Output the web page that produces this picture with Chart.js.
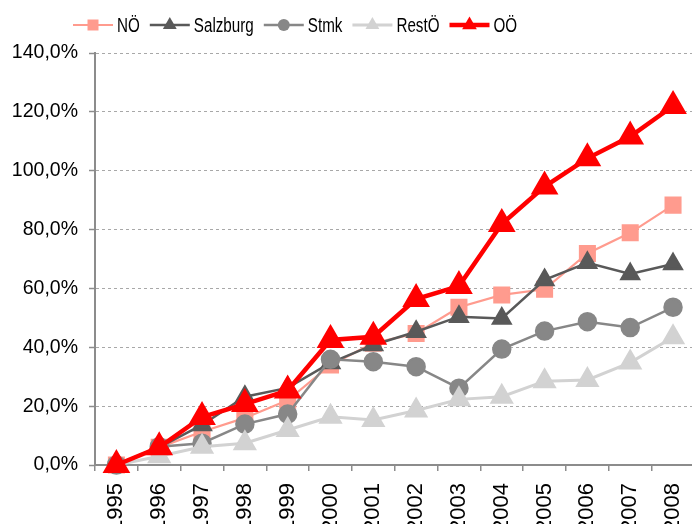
<!DOCTYPE html>
<html>
<head>
<meta charset="utf-8">
<script src="https://cdn.jsdelivr.net/npm/chart.js@4/dist/chart.umd.min.js"></script>
<style>
    html, body { margin: 0; padding: 0; background: #fff; overflow: hidden; }
</style>
</head>
<body>
<canvas id="lineChart" width="712" height="524"></canvas>
<script>

years = ['1995', '1996', '1997', '1998', '1999', '2000', '2001', '2002', '2003', '2004', '2005', '2006', '2007', '2008']

// growth since 1995, in percent
noe      = [0, 6.0, 11.3, 16.0, 22.0, 34.0, 41.4, 44.7, 53.6, 57.8, 59.7, 71.9, 78.9, 88.3]
salzburg = [0, 6.0, 13.6, 23.2, 26.2, 34.7, 40.8, 45.3, 50.4, 49.8, 62.9, 68.7, 64.9, 68.3]
stmk     = [0, 6.2, 7.4, 13.9, 17.3, 35.9, 35.1, 33.4, 26.1, 39.4, 45.5, 48.7, 46.7, 53.6]
restOe   = [0, 3.0, 6.2, 7.4, 11.9, 16.4, 15.3, 18.5, 22.3, 23.2, 28.5, 28.9, 34.8, 43.4]
ooe      = [0, 6.0, 16.3, 20.7, 25.3, 42.5, 43.6, 56.4, 60.8, 81.9, 94.6, 104.2, 111.6, 122.0]

yTicks = [0, 20, 40, 60, 80, 100, 120, 140]

const FONT = '"Liberation Sans", Arial, sans-serif';
const AXIS_GREY = '#8c8c8c';

// legend with a short line through the marker, text slightly condensed
const lineLegend = {
    id: 'lineLegend',
    afterDraw(chart) {
        const ctx = chart.ctx;
        const y = 25;
        let x = 73;
        ctx.save();
        ctx.font = '20px ' + FONT;
        ctx.textBaseline = 'middle';
        ctx.textAlign = 'left';
        chart.data.datasets.forEach(ds => {
            ctx.strokeStyle = ds.borderColor;
            ctx.fillStyle = ds.borderColor;
            ctx.lineWidth = ds.borderWidth;
            ctx.beginPath();
            ctx.moveTo(x, y);
            ctx.lineTo(x + 40, y);
            ctx.stroke();

            const cx = x + 20;
            const r = ds.legendRadius;
            ctx.beginPath();
            if (ds.pointStyle === 'rect') {
                ctx.rect(cx - r, y - r, 2 * r, 2 * r);
            } else if (ds.pointStyle === 'triangle') {
                ctx.moveTo(cx, y - r);
                ctx.lineTo(cx + r * 0.866, y + r / 2);
                ctx.lineTo(cx - r * 0.866, y + r / 2);
                ctx.closePath();
            } else {
                ctx.arc(cx, y, r, 0, Math.PI * 2);
            }
            ctx.fill();

            ctx.fillStyle = '#000';
            ctx.save();
            ctx.translate(x + 44, y + 1);
            ctx.scale(0.76, 1);
            ctx.fillText(ds.label, 0, 0);
            ctx.restore();
            x += 44 + ctx.measureText(ds.label).width * 0.76 + 10;
        });
        ctx.restore();
    }
};

let lineChart = new Chart(document.getElementById('lineChart'), {
    type: 'line',
    data: {
        labels: years,
        datasets: [
            {
                label: 'NÖ',
                data: noe,
                borderColor: '#ff9b8e',
                backgroundColor: '#ff9b8e',
                borderWidth: 2.2,
                pointStyle: 'rect',
                pointRadius: 10.5,
                legendRadius: 5.5,
                order: 5
            },
            {
                label: 'Salzburg',
                data: salzburg,
                borderColor: '#595959',
                backgroundColor: '#595959',
                borderWidth: 2.5,
                pointStyle: 'triangle',
                pointRadius: 10,
                legendRadius: 8,
                order: 4
            },
            {
                label: 'Stmk',
                data: stmk,
                borderColor: '#878787',
                backgroundColor: '#878787',
                borderWidth: 2.5,
                pointStyle: 'circle',
                pointRadius: 8.5,
                legendRadius: 6,
                order: 3
            },
            {
                label: 'RestÖ',
                data: restOe,
                borderColor: '#d2d2d2',
                backgroundColor: '#d2d2d2',
                borderWidth: 3,
                pointStyle: 'triangle',
                pointRadius: 11,
                legendRadius: 8,
                order: 2
            },
            {
                label: 'OÖ',
                data: ooe,
                borderColor: '#ff0000',
                backgroundColor: '#ff0000',
                borderWidth: 4.5,
                pointStyle: 'triangle',
                pointRadius: 11.5,
                legendRadius: 8.5,
                order: 1
            }
        ]
    },
    options: {
        responsive: false,
        animation: false,
        devicePixelRatio: 1,
        layout: {
            padding: { top: 53, right: 9, bottom: 0, left: 0 }
        },
        elements: {
            line: { tension: 0 },
            point: { borderWidth: 0, hoverRadius: 10 }
        },
        datasets: {
            line: { clip: false }
        },
        plugins: {
            legend: { display: false },
            tooltip: { enabled: false }
        },
        scales: {
            x: {
                type: 'category',
                offset: true,
                grid: {
                    offset: true,
                    drawOnChartArea: false,
                    tickLength: 6,
                    color: AXIS_GREY,
                    lineWidth: 1.5
                },
                border: { color: AXIS_GREY, width: 2 },
                ticks: {
                    autoSkip: false,
                    minRotation: 90,
                    maxRotation: 90,
                    padding: 12,
                    color: '#000',
                    font: { family: FONT, size: 22 }
                },
                afterFit: scale => { scale.height = 59; }
            },
            y: {
                min: 0,
                max: 140,
                afterBuildTicks: scale => {
                    scale.ticks = yTicks.map(v => ({ value: v }));
                },
                grid: {
                    color: '#a8a8a8',
                    lineWidth: 1,
                    tickLength: 6,
                    tickColor: AXIS_GREY,
                    tickWidth: 1.5
                },
                border: { color: AXIS_GREY, width: 2, dash: [3, 3] },
                ticks: {
                    padding: 11,
                    color: '#000',
                    font: { family: FONT, size: 19.5 },
                    callback: value => value.toFixed(1).replace('.', ',') + '%'
                },
                afterFit: scale => { scale.width = 95; }
            }
        }
    },
    plugins: [lineLegend]
});

</script>
</body>
</html>
